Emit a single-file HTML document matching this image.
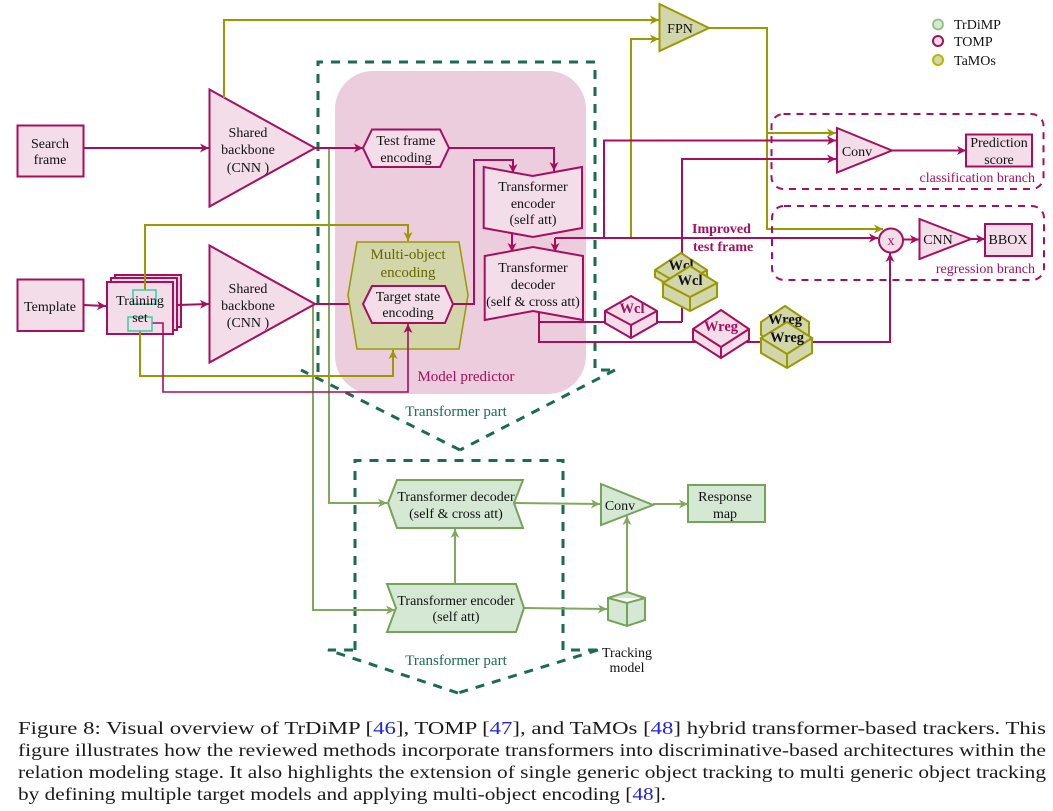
<!DOCTYPE html>
<html><head><meta charset="utf-8"><style>
html,body{margin:0;padding:0;background:#fff}
svg{display:block}
text{font-family:"Liberation Serif",serif;font-size:14px;fill:#111;text-anchor:middle}
.l{text-anchor:start}.r{text-anchor:end}
.m{fill:#a50f5e}.b{font-weight:bold}
.cap{font-size:17.6px;text-anchor:start;fill:#1a1a1a}
.cap tspan{fill:#2222dd}
.mg{fill:none;stroke:#a50f5e;stroke-width:2}
.ol{fill:none;stroke:#999900;stroke-width:2}
.gr{fill:none;stroke:#82a85e;stroke-width:2}
.fm{fill:#f3dde9;stroke:#a50f5e;stroke-width:2}
.fo{fill:#d3d6ab;stroke:#999900;stroke-width:2}
.fg{fill:#d5e8d4;stroke:#76a35a;stroke-width:2}
.dash{fill:none;stroke:#1a6b52;stroke-width:3;stroke-dasharray:9 8}
.dm{fill:none;stroke:#a50f5e;stroke-width:2;stroke-dasharray:7 6}
</style></head><body>
<svg width="1053" height="811" viewBox="0 0 1053 811" xmlns="http://www.w3.org/2000/svg">
<defs>
<marker id="am" markerUnits="userSpaceOnUse" markerWidth="11" markerHeight="11" refX="9" refY="4.500" orient="auto"><path d="M0,0L9,4.500L0,9L2.500,4.500z" fill="#a50f5e"/></marker>
<marker id="ao" markerUnits="userSpaceOnUse" markerWidth="11" markerHeight="11" refX="9" refY="4.500" orient="auto"><path d="M0,0L9,4.500L0,9L2.500,4.500z" fill="#999900"/></marker>
<marker id="ag" markerUnits="userSpaceOnUse" markerWidth="11" markerHeight="11" refX="9" refY="4.500" orient="auto"><path d="M0,0L9,4.500L0,9L2.500,4.500z" fill="#82a85e"/></marker>
</defs>

<rect x="335" y="71" width="251" height="323" rx="38" fill="#ebcddd"/>

<path class="dash" d="M318,372V62H595V370H615"/>
<path class="dash" d="M615,370L460,450"/>
<path class="dash" d="M460,450L301,370"/>
<path class="dash" d="M355,650V460.500H563V650H598"/>
<path class="dash" d="M598,650L458,693"/>
<path class="dash" d="M458,693L328,650H355"/>

<path class="gr" d="M329,148V503H387" marker-end="url(#ag)"/>
<path class="gr" d="M313,304V610H395" marker-end="url(#ag)"/>

<rect class="fm" x="17.500" y="125.500" width="66" height="51"/>
<rect class="fm" x="17.500" y="279.500" width="66" height="51.500"/>
<polygon class="fm" points="209.500,89.500 315,148 209.500,206.500"/>
<polygon class="fm" points="209.500,245.500 315,304 209.500,362.500"/>
<rect class="fm" x="115" y="275" width="66" height="52"/>
<rect class="fm" x="111" y="278" width="66" height="52"/>
<rect class="fm" x="107" y="282" width="66" height="52"/>

<polyline class="mg" points="83,148 209,148" marker-end="url(#am)"/>
<polyline class="mg" points="83,305 106,306" marker-end="url(#am)"/>
<polyline class="mg" points="178,305 209,304" marker-end="url(#am)"/>
<polyline class="mg" points="315,148 363,148" marker-end="url(#am)"/>
<polyline class="mg" points="315,304 363,304" marker-end="url(#am)"/>

<polygon class="fo" style="stroke-width:1.500" points="357,242 459,242 468,295 459,349 357,349 348,295"/>
<polygon class="fm" points="363,148 372,129.500 440,129.500 449,148 440,167 372,167"/>
<polygon class="fm" points="363,304 372,286 445,286 453,304 445,323 372,323"/>

<path class="ol" d="M224,98V20H659" marker-end="url(#ao)"/>
<path class="ol" d="M631,238V39H659" marker-end="url(#ao)"/>
<path class="ol" d="M145,290V225H408V241" marker-end="url(#ao)"/>
<path class="ol" d="M140,331V376H393V350" marker-end="url(#ao)"/>
<path class="mg" style="stroke-width:1.600" d="M152,323H163V392H408V324" marker-end="url(#am)"/>
<path class="ol" d="M709,28H767V229H883" marker-end="url(#ao)"/>
<path class="ol" d="M767,133H836" marker-end="url(#ao)"/>

<path class="mg" d="M449,148H554V171" marker-end="url(#am)"/>
<path class="mg" d="M453,304H474V160H513V173" marker-end="url(#am)"/>
<path class="mg" d="M512,234V252" marker-end="url(#am)"/>
<path class="mg" d="M555,238V252" marker-end="url(#am)"/>
<path class="mg" d="M555,238H878" marker-end="url(#am)"/>
<path class="mg" d="M604,238V140.500H836" marker-end="url(#am)"/>
<path class="mg" d="M682,322V159H836" marker-end="url(#am)"/>
<path class="mg" d="M539,311V322H682"/>
<path class="mg" d="M539,311V342H890V253" marker-end="url(#am)"/>

<polygon class="fm" points="483.700,167 532.700,176 582,167 582,228 533,237 483.700,228"/>
<polygon class="fm" points="484.700,256 533,247 583,256 583,320 533,311 484.700,320"/>

<!-- magenta boxes -->
<g class="fm">
<polygon points="631,296 657,311 657,323 631,338 605,323 605,311"/>
<path fill="none" d="M605,311L631,325L657,311M631,325V338"/>
<polygon points="721,310 749,329 749,340 721,358 693,340 693,329"/>
<path fill="none" d="M693,329L721,347L749,329M721,347V358"/>
</g>
<!-- olive boxes -->
<g class="fo">
<polygon points="681,253 707,270 707,277 681,292 655,277 655,270"/>
<path fill="none" d="M655,270L681,285L707,270"/>
<polygon points="690,266 717,283 717,297 690,311 663,297 663,283"/>
<path fill="none" d="M663,283L690,297L717,283M690,297V311"/>
<polygon points="785,306 809,322 809,335 785,350 761,335 761,322"/>
<polygon points="787,322 812,338 812,353 787,368 761,353 761,338"/>
<path fill="none" d="M761,338L787,354L812,338M787,354V368"/>
</g>

<!-- top right -->
<polygon class="fo" points="659.500,4 709,28 659.500,51"/>
<rect class="dm" x="771.500" y="114" width="272" height="75" rx="12"/>
<rect class="dm" x="772" y="206" width="272" height="74" rx="12"/>
<polygon class="fm" points="837,128 892,150.500 837,172.500"/>
<polyline class="mg" points="892,150.500 966,150.500" marker-end="url(#am)"/>
<rect class="fm" x="966" y="134.500" width="66" height="32"/>
<circle class="fm" cx="891" cy="240.500" r="12"/>
<polyline class="mg" points="903,239.500 919,239.500" marker-end="url(#am)"/>
<polygon class="fm" points="919.500,219 971,239 919.500,259"/>
<polyline class="mg" points="971,239 985,239" marker-end="url(#am)"/>
<rect class="fm" x="985" y="224" width="47" height="32"/>
<circle cx="938" cy="24.500" r="5" fill="#d5e8d4" stroke="#8cc084" stroke-width="1.800"/>
<circle cx="938" cy="41" r="5" fill="#f3dde9" stroke="#a50f5e" stroke-width="2"/>
<circle cx="938" cy="60" r="5" fill="#d3d6ab" stroke="#b8b800" stroke-width="2"/>

<!-- lower -->
<path class="gr" d="M514,503L600,504" marker-end="url(#ag)"/>
<path class="gr" d="M653,504H688" marker-end="url(#ag)"/>
<path class="gr" d="M455,584V529" marker-end="url(#ag)"/>
<path class="gr" d="M524,608L607,609" marker-end="url(#ag)"/>
<path class="gr" d="M627,592V516" marker-end="url(#ag)"/>
<polygon class="fg" points="388,503 397,480 523,480 514,503 523,528 397,528"/>
<polygon class="fg" points="387,584 516,584 524,608 516,632 387,632 396,608"/>
<polygon class="fg" points="601,484 653,505 601,525"/>
<rect class="fg" x="688" y="485" width="77" height="37"/>
<path class="fg" d="M627,592L645,598V620L627,626L608,620V598ZM608,598L627,603L645,598M627,603V626"/>

<rect x="133" y="290" width="23" height="14" fill="none" stroke="#35cfa5" stroke-width="1.500"/>
<rect x="128" y="317" width="24" height="14" fill="none" stroke="#35cfa5" stroke-width="1.500"/>

<!-- labels -->
<text x="50" y="148">Search</text><text x="50" y="164">frame</text>
<text x="50" y="311">Template</text>
<text x="140" y="305">Training</text><text x="140" y="322">set</text>
<text x="248" y="137">Shared</text><text x="248" y="154">backbone</text><text x="248" y="172">(CNN )</text>
<text x="248" y="293">Shared</text><text x="248" y="310">backbone</text><text x="248" y="327">(CNN )</text>
<text x="406" y="145">Test frame</text><text x="406" y="162">encoding</text>
<text x="408" y="259" style="font-size:15px;fill:#666600">Multi-object</text><text x="408" y="277" style="font-size:15px;fill:#666600">encoding</text>
<text x="408" y="301">Target state</text><text x="408" y="317">encoding</text>
<text x="533" y="191">Transformer</text><text x="533" y="208">encoder</text><text x="533" y="224">(self att)</text>
<text x="533" y="272">Transformer</text><text x="533" y="289">decoder</text><text x="533" y="306">(self &amp; cross att)</text>
<text x="466" y="381" class="m" style="font-size:15px">Model predictor</text>
<text x="456" y="416" style="font-size:15px;fill:#1a6b52">Transformer part</text>
<text x="680" y="33">FPN</text>
<text x="857" y="156">Conv</text>
<text x="999" y="147">Prediction</text><text x="999" y="164">score</text>
<text x="938" y="244">CNN</text>
<text x="1008" y="244">BBOX</text>
<text x="891" y="245" class="m">x</text>
<text x="1035" y="182" class="r m">classification branch</text>
<text x="1035" y="273" class="r m">regression branch</text>
<text x="692" y="233" class="l m b">Improved</text>
<text x="693" y="251" class="l m b">test frame</text>
<text x="954" y="29" class="l">TrDiMP</text>
<text x="954" y="46" class="l">TOMP</text>
<text x="954" y="65" class="l">TaMOs</text>
<text x="632" y="313" class="m b" style="font-size:14.500px">Wcl</text>
<text x="721" y="331" class="m b" style="font-size:14.500px">Wreg</text>
<text x="681" y="270" class="b" style="font-size:14.500px">Wcl</text>
<polygon points="663,283 690,266 717,283 690,297" fill="#d3d6ab" stroke="#999900" stroke-width="2"/>
<text x="690" y="285" class="b" style="font-size:14.500px">Wcl</text>
<text x="785" y="324" class="b" style="font-size:14.500px">Wreg</text>
<polygon points="761,338 787,322 812,338 787,354" fill="#d3d6ab" stroke="#999900" stroke-width="2"/>
<text x="787" y="342" class="b" style="font-size:14.500px">Wreg</text>
<text x="456" y="501">Transformer decoder</text><text x="456" y="518">(self &amp; cross att)</text>
<text x="456" y="605">Transformer encoder</text><text x="456" y="621">(self att)</text>
<text x="620" y="510">Conv</text>
<text x="725" y="501">Response</text><text x="725" y="518">map</text>
<text x="456" y="665" style="font-size:15px;fill:#1a6b52">Transformer part</text>
<text x="627" y="657">Tracking</text><text x="627" y="672">model</text>

<!-- caption -->
<text class="cap" x="18" y="734" textLength="1028" lengthAdjust="spacingAndGlyphs">Figure 8: Visual overview of TrDiMP [<tspan>46</tspan>], TOMP [<tspan>47</tspan>], and TaMOs [<tspan>48</tspan>] hybrid transformer-based trackers.  This</text>
<text class="cap" x="18" y="756" textLength="1028" lengthAdjust="spacingAndGlyphs">figure illustrates how the reviewed methods incorporate transformers into discriminative-based architectures within the</text>
<text class="cap" x="18" y="778" textLength="1028" lengthAdjust="spacingAndGlyphs">relation modeling stage. It also highlights the extension of single generic object tracking to multi generic object tracking</text>
<text class="cap" x="18" y="800" textLength="648" lengthAdjust="spacingAndGlyphs">by defining multiple target models and applying multi-object encoding [<tspan>48</tspan>].</text>
</svg>
</body></html>
